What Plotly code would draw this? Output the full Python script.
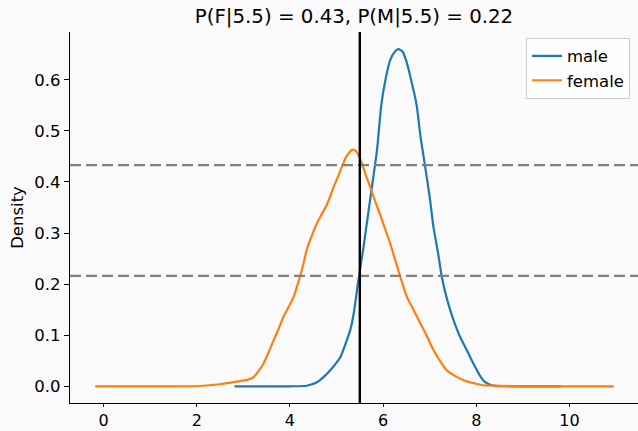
import plotly.graph_objects as go

# ---- data ----
male_x = [2.81, 3.5, 4.0, 4.36, 4.58, 4.72, 4.86, 5.08, 5.22, 5.30, 5.37, 5.47, 5.58, 5.69, 5.79,
          5.87, 5.96, 6.05, 6.15, 6.25, 6.33, 6.42, 6.50, 6.60, 6.72, 6.80, 6.90, 7.00, 7.08,
          7.18, 7.26, 7.35, 7.44, 7.54, 7.65, 7.80, 7.94, 8.07, 8.19, 8.30, 8.44, 8.70, 9.20, 9.83]
male_y = [0.0, 0.0, 0.0, 0.001, 0.008, 0.018, 0.031, 0.057, 0.090, 0.112, 0.143, 0.208, 0.273,
          0.345, 0.410, 0.463, 0.550, 0.600, 0.638, 0.655, 0.660, 0.655, 0.636, 0.600, 0.550,
          0.490, 0.431, 0.370, 0.312, 0.260, 0.214, 0.178, 0.149, 0.122, 0.097, 0.070, 0.044,
          0.022, 0.008, 0.003, 0.0005, 0.0, 0.0, 0.0]

female_x = [-0.18, 0.5, 1.0, 1.5, 2.07, 2.5, 2.79, 2.94, 3.10, 3.22, 3.33, 3.43, 3.54, 3.65, 3.76,
            3.86, 3.97, 4.08, 4.15, 4.22, 4.29, 4.36, 4.47, 4.58, 4.69, 4.79, 4.87, 4.94, 5.03,
            5.12, 5.20, 5.26, 5.32, 5.37, 5.42, 5.47, 5.55, 5.63, 5.72, 5.83, 5.94, 6.05, 6.15,
            6.26, 6.37, 6.51, 6.65, 6.80, 6.94, 7.08, 7.22, 7.37, 7.55, 7.73, 7.95, 8.15, 8.51,
            9.0, 10.0, 10.95]
female_y = [0.0, 0.0, 0.0, 0.0, 0.0006, 0.004, 0.008, 0.0104, 0.013, 0.018, 0.030, 0.044, 0.066,
            0.090, 0.113, 0.136, 0.155, 0.175, 0.195, 0.216, 0.240, 0.267, 0.295, 0.319, 0.338,
            0.355, 0.373, 0.391, 0.410, 0.431, 0.448, 0.456, 0.462, 0.463, 0.460, 0.453, 0.435,
            0.413, 0.391, 0.362, 0.335, 0.306, 0.280, 0.247, 0.214, 0.175, 0.150, 0.123, 0.098,
            0.071, 0.050, 0.031, 0.020, 0.012, 0.006, 0.002, 0.001, 0.0, 0.0, 0.0]

threshold = 5.5
p_female_line = 0.433
p_male_line = 0.216
title_text = "P(F|5.5) = 0.43, P(M|5.5) = 0.22"
x_ticks = [0, 2, 4, 6, 8, 10]
y_ticks = [0.0, 0.1, 0.2, 0.3, 0.4, 0.5, 0.6]

BG = "#fafafa"
FONT = "DejaVu Sans"

fig = go.Figure()
fig.add_trace(go.Scatter(x=male_x, y=male_y, mode="lines", name="male",
                         line=dict(color="#1f77b4", width=2.2, shape="spline", smoothing=0.6)))
fig.add_trace(go.Scatter(x=female_x, y=female_y, mode="lines", name="female",
                         line=dict(color="#ff7f0e", width=2.2, shape="spline", smoothing=0.6)))

for yv in (p_female_line, p_male_line):
    fig.add_shape(type="line", xref="paper", x0=0, x1=1, yref="y", y0=yv, y1=yv,
                  line=dict(color="gray", width=2.2, dash="11px,5px"), layer="above")
fig.add_shape(type="line", xref="x", x0=threshold, x1=threshold, yref="paper", y0=0, y1=1,
              line=dict(color="black", width=2.4), layer="above")

fig.update_layout(
    width=638, height=431,
    margin=dict(l=70, r=0, t=32, b=28, autoexpand=False),
    paper_bgcolor=BG, plot_bgcolor=BG,
    font=dict(family=FONT, size=16, color="black"),
    title=dict(text=title_text, x=0.5, xanchor="center", y=0.962, yanchor="middle",
               xref="paper",
               font=dict(family=FONT, size=19.8, color="black")),
    showlegend=True,
    legend=dict(x=0.986, xanchor="right", y=0.985, yanchor="top",
                bgcolor="rgba(255,255,255,0.8)", bordercolor="#cccccc", borderwidth=1,
                font=dict(family=FONT, size=16.5)),
    xaxis=dict(range=[-0.72, 11.47], tickvals=x_ticks, ticktext=[str(v) for v in x_ticks],
               automargin=False,
               showgrid=False, zeroline=False, showline=True, linecolor="black", linewidth=1.2,
               ticks="outside", ticklen=3, tickwidth=1.2, tickcolor="black"),
    yaxis=dict(range=[-0.0327, 0.6935], tickvals=y_ticks, ticktext=[f"{v:.1f}" for v in y_ticks],
               automargin=False,
               title=dict(text="Density", standoff=6, font=dict(family=FONT, size=16.5)),
               showgrid=False, zeroline=False, showline=True, linecolor="black", linewidth=1.2,
               ticks="outside", ticklen=5, tickwidth=1.2, tickcolor="black",
               tickfont=dict(size=16.5)),
)

fig.write_html("out.html")
